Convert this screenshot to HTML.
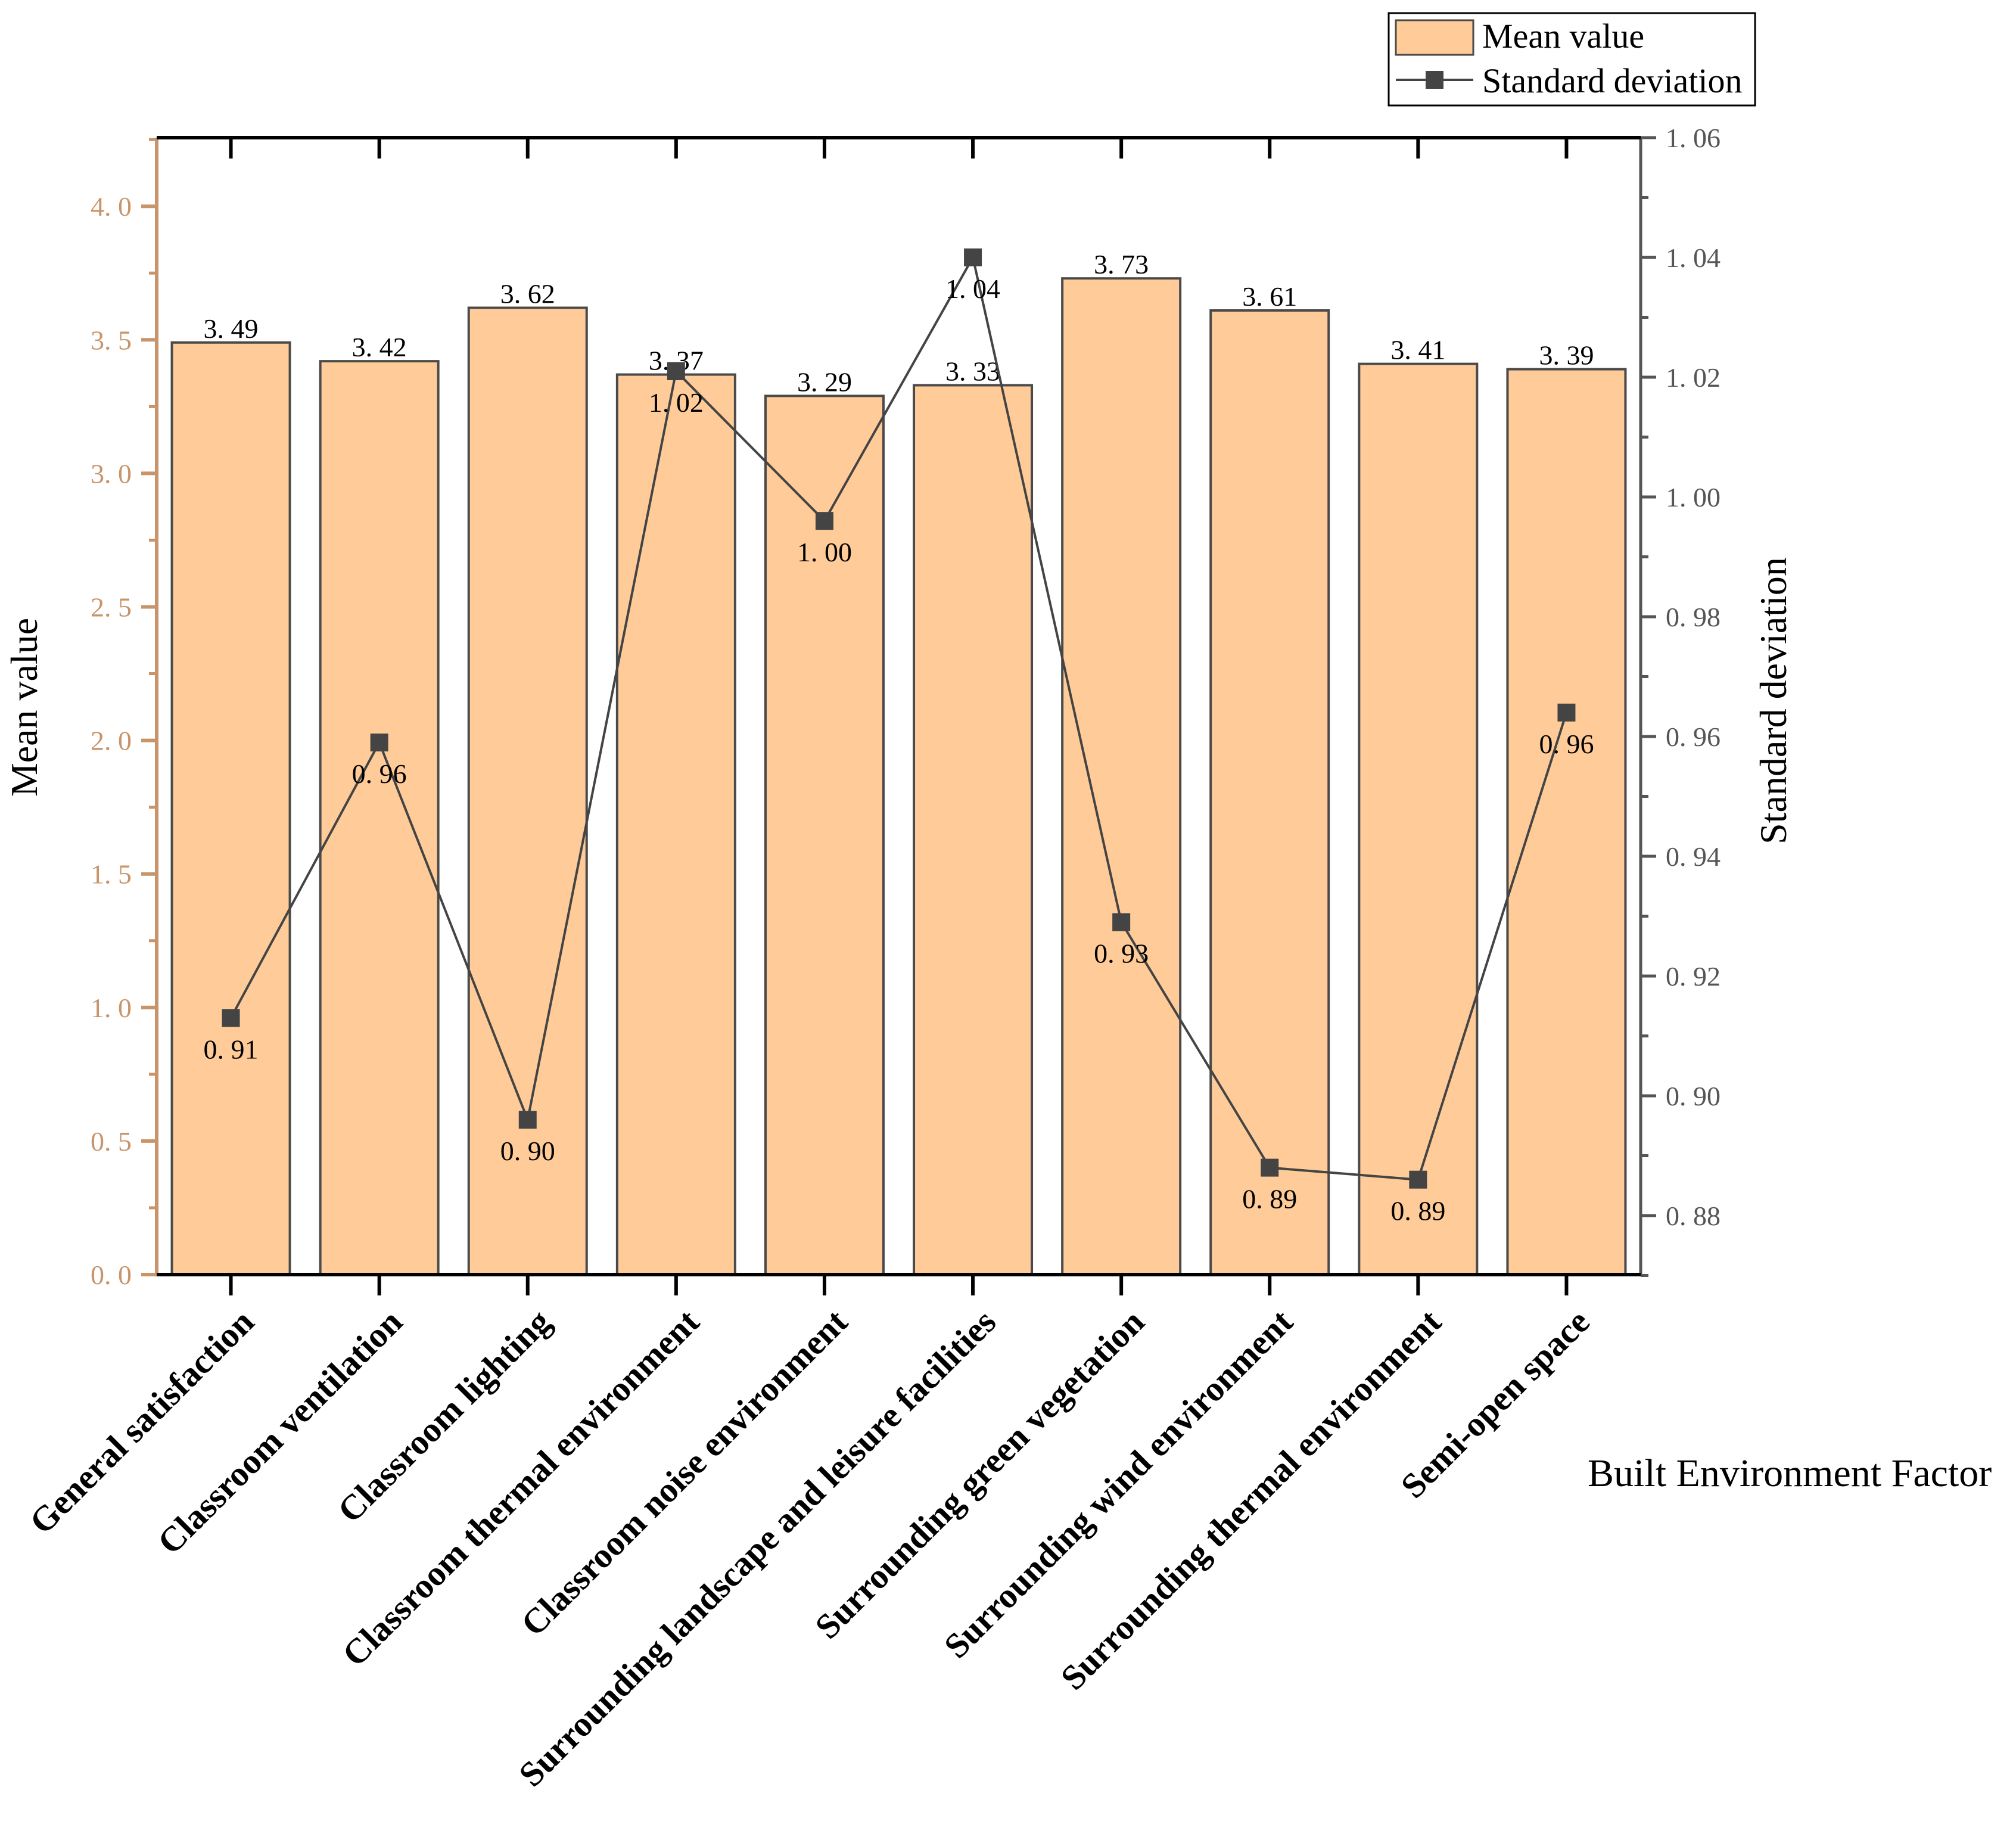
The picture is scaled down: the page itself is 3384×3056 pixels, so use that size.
<!DOCTYPE html>
<html><head><meta charset="utf-8"><style>
html,body{margin:0;padding:0;background:#fff;}
svg{display:block;}
text{font-family:"Liberation Serif","Noto Serif CJK SC",serif;}
</style></head>
<body>
<svg id="chart" width="3384" height="3056" viewBox="0 0 3384 3056" xmlns="http://www.w3.org/2000/svg">
<g id="g"></g>
</svg>
<script>
const categories = ["General satisfaction","Classroom ventilation","Classroom lighting","Classroom thermal environment","Classroom noise environment","Surrounding landscape and leisure facilities","Surrounding green vegetation","Surrounding wind environment","Surrounding thermal environment","Semi-open space"];
const meanValues = [3.49,3.42,3.62,3.37,3.29,3.33,3.73,3.61,3.41,3.39];
const sdValues = [0.913,0.959,0.896,1.021,0.996,1.040,0.929,0.888,0.886,0.964];
const sdLabels = ["0.91","0.96","0.90","1.02","1.00","1.04","0.93","0.89","0.89","0.96"];
const leftTicks = [0,0.5,1.0,1.5,2.0,2.5,3.0,3.5,4.0];
const rightTicks = [0.88,0.90,0.92,0.94,0.96,0.98,1.00,1.02,1.04,1.06];

const L=263,R=2754,T=231,B=2139;
const yL = v => B - v*448.2;
const yR = v => 231 + (1.06 - v)/0.02*201;
const band=(R-L)/categories.length;
const xC = i => L + (i+0.5)*band;
const NS="http://www.w3.org/2000/svg";
const g=document.getElementById('g');
function mk(tag,attrs,parent){const e=document.createElementNS(NS,tag);for(const k in attrs)e.setAttribute(k,attrs[k]);(parent||g).appendChild(e);return e;}
function fmtJ(s){return s.replace('.', '. ');}

categories.forEach((c,i)=>{
  const r=mk('rect',{x:xC(i)-99,y:yL(meanValues[i]),width:198,height:B-yL(meanValues[i]),fill:'#ffcc99',stroke:'#4a4a4a','stroke-width':4});
  
  
  const t=mk('text',{x:xC(i),y:yL(meanValues[i])-8,'text-anchor':'middle','font-size':46,fill:'#000'});
  t.textContent=fmtJ(meanValues[i].toFixed(2));
  
  
});

const la=mk('line',{x1:L,y1:T,x2:L,y2:B+2,stroke:'#c8946a','stroke-width':6});


const ra=mk('line',{x1:R,y1:T,x2:R,y2:B,stroke:'#555','stroke-width':5});


const ta=mk('line',{x1:L,y1:T,x2:R,y2:T,stroke:'#000','stroke-width':6});


const ba=mk('line',{x1:L,y1:B,x2:R,y2:B,stroke:'#000','stroke-width':6});



categories.forEach((c,i)=>{
  mk('line',{x1:xC(i),y1:T,x2:xC(i),y2:T+35,stroke:'#000','stroke-width':6});
  mk('line',{x1:xC(i),y1:B,x2:xC(i),y2:B+35,stroke:'#000','stroke-width':6});
  const x=xC(i)+42,y=2222;
  const t=mk('text',{x:x,y:y,'text-anchor':'end','font-size':59,'font-weight':'bold',transform:`rotate(-45 ${x} ${y})`});
  t.textContent=c;
  
  
});

leftTicks.forEach(v=>{
  mk('line',{x1:L-26,y1:yL(v),x2:L,y2:yL(v),stroke:'#c8946a','stroke-width':6});
  mk('line',{x1:L-13,y1:yL(v+0.25),x2:L,y2:yL(v+0.25),stroke:'#c8946a','stroke-width':5});
  const t=mk('text',{x:L-42,y:yL(v)+16,'text-anchor':'end','font-size':46,fill:'#c8946a'});
  t.textContent=fmtJ(v.toFixed(1));
  
  
});
rightTicks.forEach(v=>{
  mk('line',{x1:R,y1:yR(v),x2:R+26,y2:yR(v),stroke:'#555','stroke-width':5});
  if(v>0.875) mk('line',{x1:R,y1:yR(v-0.01),x2:R+13,y2:yR(v-0.01),stroke:'#555','stroke-width':5});
  const t=mk('text',{x:R+42,y:yR(v)+16,'font-size':46,fill:'#555'});
  t.textContent=fmtJ(v.toFixed(2));
  
  
});

const pts=sdValues.map((v,i)=>xC(i)+','+yR(v)).join(' ');
const pl=mk('polyline',{points:pts,fill:'none',stroke:'#444','stroke-width':4});


sdValues.forEach((v,i)=>{
  const m=mk('rect',{x:xC(i)-15,y:yR(v)-15,width:30,height:30,fill:'#444'});
  
  
  const t=mk('text',{x:xC(i),y:yR(v)+68,'text-anchor':'middle','font-size':46});
  t.textContent=fmtJ(sdLabels[i]);
  
  
});

let t=mk('text',{x:62,y:1187,'text-anchor':'middle','font-size':64,transform:'rotate(-90 62 1187)'});
t.textContent='Mean value';


t=mk('text',{x:2998,y:1176,'text-anchor':'middle','font-size':64,transform:'rotate(-90 2998 1176)'});
t.textContent='Standard deviation';


t=mk('text',{x:2665,y:2494,'font-size':66});
t.textContent='Built Environment Factor';



const lg=mk('g',{});


mk('rect',{x:2331,y:22,width:615,height:155,fill:'#fff',stroke:'#000','stroke-width':3},lg);
const lp=mk('rect',{x:2343,y:34,width:130,height:58,fill:'#ffcc99',stroke:'#4a4a4a','stroke-width':3},lg);


mk('line',{x1:2343,y1:134,x2:2473,y2:134,stroke:'#444','stroke-width':4},lg);
const lm=mk('rect',{x:2393,y:119,width:30,height:30,fill:'#444'},lg);


t=mk('text',{x:2488,y:80,'font-size':58},lg);t.textContent='Mean value';
t=mk('text',{x:2488,y:155,'font-size':58},lg);t.textContent='Standard deviation';
</script>
</body></html>
